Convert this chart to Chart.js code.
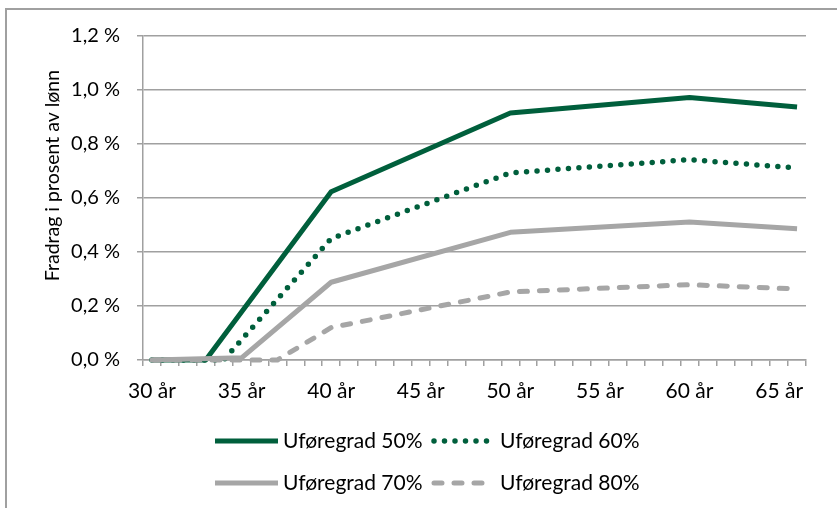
<!DOCTYPE html>
<html>
<head>
<meta charset="utf-8">
<script src="https://cdn.jsdelivr.net/npm/chart.js@4"></script>
<style>
  html, body { margin: 0; padding: 0; background: #fff; overflow: hidden; }
  #wrap { position: relative; width: 837px; height: 508px; }
  #frame { position: absolute; left: 5px; top: 8px; width: 900px; height: 600px;
           border-top: 2px solid #a0a0a0; border-left: 2px solid #a0a0a0; }
  canvas { position: absolute; left: 0; top: 0; }
</style>
</head>
<body>
<div id="wrap">
  <div id="frame"></div>
  <canvas id="fradragChart" width="837" height="508"></canvas>
</div>
<script>
// Alder (kategorier)
const ages = [30, 31, 32, 33, 34, 35, 36, 37, 38, 39, 40, 41, 42, 43, 44, 45, 46, 47, 48,
              49, 50, 51, 52, 53, 54, 55, 56, 57, 58, 59, 60, 61, 62, 63, 64, 65, 66];
const xTickAges = [30, 35, 40, 45, 50, 55, 60, 65];
const xTickLabels = ['30 år', '35 år', '40 år', '45 år', '50 år', '55 år', '60 år', '65 år'];
const yTickLabels = ['0,0 %', '0,2 %', '0,4 %', '0,6 %', '0,8 %', '1,0 %', '1,2 %'];
const yTitle = 'Fradrag i prosent av lønn';

const seriesNames = ['Uføregrad 50%', 'Uføregrad 60%', 'Uføregrad 70%', 'Uføregrad 80%'];

// knekkpunkter per serie (fradrag i prosent av lønn)
const ages50 = [30, 33, 40, 50, 60, 66];
const values50 = [0, 0, 0.623, 0.915, 0.972, 0.937];
const ages60 = [30, 34, 40, 50, 60, 66];
const values60 = [0, 0, 0.45, 0.693, 0.742, 0.711];
const ages70 = [30, 35, 40, 50, 60, 66];
const values70 = [0, 0.008, 0.288, 0.473, 0.511, 0.486];
const ages80 = [30, 37, 40, 50, 60, 66];
const values80 = [0, 0, 0.12, 0.252, 0.279, 0.263];

const green = '#005f3c';
const grey = '#a6a6a6';
const gridGrey = '#a0a0a0';

const toPoints = (xs, ys) => xs.map((a, i) => ({ x: a + ' år', y: ys[i] }));

Chart.defaults.font.family = 'Lato';
Chart.defaults.font.size = 20;
Chart.defaults.color = '#000';

// legend drawn as 2x2 grid like the original
const gridLegend = {
  id: 'gridLegend',
  afterDraw(chart) {
    const ctx = chart.ctx;
    const cols = [215, 432];
    const rows = [441, 483];
    chart.data.datasets.forEach((ds, i) => {
      const x = cols[i % 2];
      const y = rows[Math.floor(i / 2)];
      ctx.save();
      ctx.strokeStyle = ds.borderColor;
      ctx.lineWidth = ds.borderWidth;
      ctx.lineCap = ds.borderCapStyle || 'butt';
      ctx.setLineDash(ds.borderDash || []);
      ctx.beginPath();
      if (ds.borderDash && ds.borderDash.length) {
        ctx.moveTo(x + 2, y);
        ctx.lineTo(x + 57, y);
      } else {
        ctx.moveTo(x, y);
        ctx.lineTo(x + 63, y);
      }
      ctx.stroke();
      ctx.restore();
      ctx.save();
      ctx.font = '21px Lato';
      ctx.fillStyle = '#000';
      ctx.textBaseline = 'middle';
      ctx.fillText(ds.label, x + 68, y);
      ctx.restore();
    });
  }
};

new Chart(document.getElementById('fradragChart'), {
  type: 'line',
  data: {
    labels: ages.map(a => a + ' år'),
    datasets: [
      { label: seriesNames[0], data: toPoints(ages50, values50), borderColor: green,
        borderWidth: 5, order: 3 },
      { label: seriesNames[1], data: toPoints(ages60, values60), borderColor: green,
        borderWidth: 5.5, borderDash: [0, 10.5], borderCapStyle: 'round', order: 2 },
      { label: seriesNames[2], data: toPoints(ages70, values70), borderColor: grey,
        borderWidth: 5, order: 1 },
      { label: seriesNames[3], data: toPoints(ages80, values80), borderColor: grey,
        borderWidth: 5, borderDash: [8, 12], borderCapStyle: 'round', order: 0 }
    ]
  },
  options: {
    responsive: false,
    animation: false,
    clip: false,
    elements: {
      point: { radius: 0, hoverRadius: 0 },
      line: { tension: 0, borderJoinStyle: 'round' }
    },
    layout: { padding: { top: 36, right: 31, left: 0, bottom: 0 } },
    plugins: { legend: { display: false }, tooltip: { enabled: false } },
    scales: {
      x: {
        type: 'category',
        offset: true,
        afterFit: s => { s.height = 148; },
        grid: { display: true, drawOnChartArea: false, drawTicks: true, tickLength: 6,
                offset: true, color: gridGrey, lineWidth: 1.5 },
        border: { display: true, color: gridGrey, width: 1.5 },
        ticks: {
          autoSkip: false, maxRotation: 0, padding: 13, font: { size: 21 },
          callback: (value, index) => {
            const k = xTickAges.indexOf(ages[index]);
            return k >= 0 ? xTickLabels[k] : '';
          }
        }
      },
      y: {
        min: 0,
        max: 1.2,
        afterFit: s => { s.width = 143; },
        grid: { color: gridGrey, lineWidth: 1.5, tickLength: 6, drawTicks: true },
        border: { display: true, color: gridGrey, width: 1.5 },
        ticks: { stepSize: 0.2, padding: 17, callback: (value, index) => yTickLabels[index] },
        // leading spaces lift the title a little, as in the original
        title: { display: true, text: '         ' + yTitle, font: { size: 19.5 },
                 padding: { top: 41, bottom: 0 } }
      }
    }
  },
  plugins: [gridLegend]
});
</script>
</body>
</html>
